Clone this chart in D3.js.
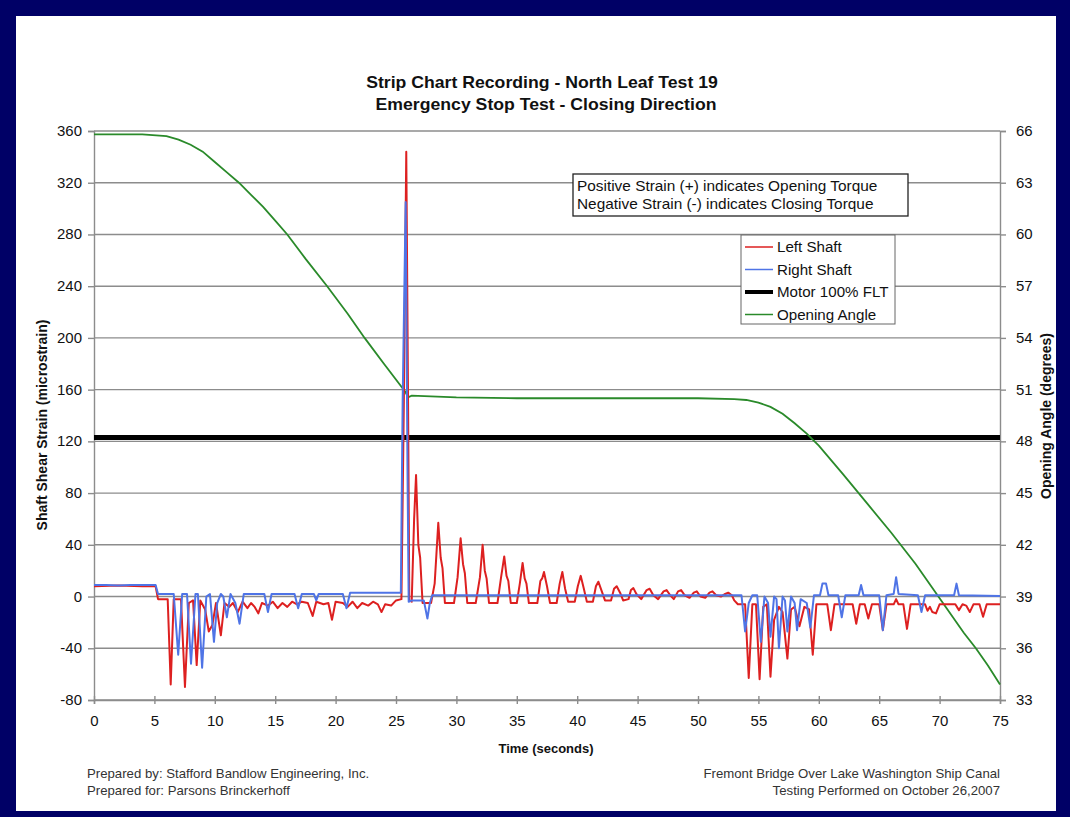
<!DOCTYPE html>
<html>
<head>
<meta charset="utf-8">
<script src="https://cdn.jsdelivr.net/npm/d3@7"></script>
<style>
  html, body { margin: 0; padding: 0; background: #000066; }
  svg { display: block; font-family: "Liberation Sans", Arial, sans-serif; }
</style>
</head>
<body>
<svg id="chart"></svg>
<script>
// time (s), microstrain
const leftShaft = [
  [0, 8], [2, 8.5], [4, 8], [5.1, 8], [5.3, -2], [6.1, -2], [6.35, -68], [6.6, -2], [7.2, -2],
  [7.53, -70], [7.85, -5], [8.2, -3], [8.5, -53], [8.8, -3], [9.2, -10], [9.5, -27], [9.8, -22],
  [10.1, -5], [10.5, -30], [10.8, -5], [11.2, -8], [11.5, -5], [11.9, -12], [12.3, -4], [12.7, -9],
  [13.0, -5], [13.3, -8], [13.6, -13], [13.9, -5], [14.4, -7], [14.8, -4], [15.2, -9], [15.6, -5],
  [16.0, -8], [16.4, -4], [16.8, -6], [17.2, -4], [17.7, -5], [18.1, -15], [18.4, -4], [19.0, -6],
  [19.4, -5], [19.7, -18], [20.0, -4], [20.6, -5], [21.0, -8], [21.4, -4], [21.8, -9], [22.2, -5],
  [22.7, -7], [23.1, -4], [23.5, -6], [23.8, -12], [24.1, -6], [24.6, -7], [25.0, -3], [25.45, -2],
  [25.65, 150], [25.85, 344], [26.0, 150], [26.1, -3], [26.3, -4], [26.5, 60], [26.66, 94],
  [26.85, 40], [27.0, 30], [27.2, -5], [27.9, -5], [28.2, 10], [28.5, 57], [28.7, 30], [28.85, 22],
  [29.05, -5], [29.8, -5], [30.1, 15], [30.35, 45], [30.55, 25], [30.7, 18], [30.9, -5], [31.6, -5],
  [31.95, 15], [32.17, 40], [32.35, 20], [32.5, 14], [32.7, -5], [33.4, -5], [33.7, 15], [33.96, 31],
  [34.15, 16], [34.3, 12], [34.5, -5], [35.0, -5], [35.25, 10], [35.48, 26], [35.65, 14], [35.8, 10],
  [36.0, -5], [36.7, -5], [36.95, 12], [37.1, 14], [37.25, 19], [37.5, 8], [37.75, -5], [38.3, -5],
  [38.55, 10], [38.77, 19], [39.0, 6], [39.25, -4], [39.8, -4], [40.05, 8], [40.29, 16], [40.55, 6],
  [40.8, -4], [41.3, -4], [41.55, 8], [41.75, 11.5], [42.0, 5], [42.3, -3], [42.8, -3], [43.05, 6],
  [43.27, 8], [43.55, 3], [43.8, -3], [44.25, -2], [44.45, 5], [44.65, 6.5], [44.9, 2], [45.3, -2],
  [45.75, 5], [46.0, 6], [46.3, 1], [46.7, -2], [47.15, 4], [47.4, 5], [47.7, 1], [48.0, -2],
  [48.35, 4], [48.6, 5], [48.9, 1], [49.3, -1], [49.65, 3], [49.9, 4], [50.2, 0], [50.6, -1],
  [50.95, 3], [51.2, 4], [51.5, 1], [51.9, 0], [52.25, 2], [52.5, 3], [52.8, 1], [53.0, -3],
  [53.3, -6], [53.9, -6], [54.2, -63], [54.5, -6], [54.8, -6], [55.1, -64], [55.4, -8], [55.7, -6],
  [56.0, -62], [56.3, -18], [56.7, -8], [57.0, -12], [57.4, -48], [57.7, -10], [58.0, -8], [58.4, -23],
  [58.8, -8], [59.2, -10], [59.5, -45], [59.8, -6], [60.7, -6], [61.0, -26], [61.3, -6], [62.8, -6],
  [63.1, -21], [63.4, -6], [63.8, -6], [64.1, -17], [64.4, -6], [65.0, -6], [65.3, -26], [65.6, -6],
  [66.2, -6], [66.4, -2], [66.6, -6], [67.0, -6], [67.3, -25], [67.6, -6], [68.8, -6], [69.0, -11],
  [69.2, -8], [69.4, -12], [69.7, -13], [70.0, -6], [71.3, -6], [71.6, -10.5], [71.9, -6], [72.2, -7],
  [72.5, -12], [72.8, -6], [73.3, -6], [73.6, -15.6], [73.9, -6], [75, -6]
];

const rightShaft = [
  [0, 9], [1, 9], [2, 8.5], [3, 9], [4, 9], [5.1, 9], [5.3, 2], [6.6, 2], [6.97, -45], [7.3, 2],
  [7.7, 2], [8.03, -52], [8.4, 2], [8.6, 2], [8.95, -55], [9.3, 0], [9.6, 2], [9.93, -35], [10.2, -5],
  [10.5, 2], [10.7, 0], [11.0, -16], [11.3, 2], [11.7, -5], [12.05, -21], [12.4, 2], [14.1, 2],
  [14.4, -12], [14.7, 2], [16.6, 2], [16.9, -9], [17.2, 2], [18.2, 2], [18.4, -3], [18.6, 2],
  [20.6, 2], [20.9, -9], [21.2, 3], [25.4, 3], [25.55, 150], [25.8, 305], [25.95, 100], [26.05, -4],
  [26.3, -3], [27.3, -3], [27.6, -17], [27.8, -5], [28.0, 1], [53.6, 1], [53.9, -27], [54.2, -5],
  [54.5, 1], [54.9, 1], [55.2, -35], [55.5, 0], [55.8, -5], [56.0, -31], [56.3, 0], [56.5, -2],
  [56.7, -40], [57.0, 0], [57.2, -3], [57.4, -27], [57.7, 0], [58.0, -5], [58.2, -26], [58.5, -2],
  [59.0, -5], [59.3, -24], [59.6, 1], [60.1, 1], [60.3, 10], [60.6, 10], [60.8, 1], [61.6, 1],
  [61.9, -16], [62.2, 1], [63.3, 1], [63.5, 9], [63.7, 1], [65.0, 1], [65.3, -26], [65.6, 1],
  [66.2, 2], [66.4, 15], [66.6, 2], [68.2, 1], [68.5, -12], [68.8, 1], [71.2, 1], [71.4, 10],
  [71.6, 1], [75, 0.5]
];

const motorFLT = [[0, 123], [75, 123]];

// time (s), degrees
const openingAngle = [
  [0, 65.8], [4, 65.8], [6, 65.7], [7, 65.5], [8, 65.2], [9, 64.8], [10, 64.2], [11, 63.6],
  [12, 63.0], [13, 62.3], [14, 61.6], [15, 60.8], [16, 60.0], [17.5, 58.6], [19.3, 57.0], [21, 55.4],
  [22.4, 54.0], [24, 52.5], [25.75, 50.9], [26.0, 50.55], [26.3, 50.65], [30, 50.55], [35, 50.5],
  [40, 50.5], [45, 50.5], [50, 50.5], [53, 50.45], [54, 50.4], [55, 50.25], [56, 50.0], [57, 49.6],
  [58, 49.05], [59, 48.45], [60, 47.75], [62, 46.1], [64, 44.4], [66, 42.7], [68, 40.9], [70, 38.9],
  [72, 36.9], [73, 36.0], [74, 35.0], [75, 33.9]
];

const xTicks = d3.range(0, 76, 5);
const yTicks = d3.range(-80, 361, 40);
const y2Ticks = d3.range(33, 67, 3);

const legendItems = [
  { name: "Left Shaft", color: "#dd2020", width: 1.5 },
  { name: "Right Shaft", color: "#4f74e6", width: 1.5 },
  { name: "Motor 100% FLT", color: "#000000", width: 4 },
  { name: "Opening Angle", color: "#2a8a2a", width: 1.5 }
];

const noteLines = [
  "Positive Strain (+) indicates Opening Torque",
  "Negative Strain (-) indicates Closing Torque"
];

const width = 1070;
const height = 817;
const margin = { top: 131, right: 70, bottom: 117, left: 94 };
const fontFamily = "'Liberation Sans', Arial, sans-serif";

const svg = d3.select("#chart")
  .attr("width", width)
  .attr("height", height);

// the source picture is a little wider than tall, so stretch text sideways
function stretch(sel, sx) {
  sel.each(function () {
    const t = d3.select(this);
    const tx = +t.attr("x") || 0;
    const ty = +t.attr("y") || 0;
    t.attr("x", 0).attr("y", 0)
      .attr("transform", `translate(${tx},${ty}) scale(${sx},1)`);
  });
}

function label(g, xPos, yPos, txt, size, anchor, weight) {
  return g.append("text")
    .attr("x", xPos).attr("y", yPos)
    .attr("text-anchor", anchor || "start")
    .style("font-size", size + "px")
    .style("font-weight", weight || "normal")
    .attr("fill", "#111")
    .text(txt);
}

svg.append("rect")
  .attr("width", width).attr("height", height)
  .attr("fill", "#000066");

svg.append("rect")
  .attr("x", 16).attr("y", 16)
  .attr("width", 1040).attr("height", 795)
  .attr("fill", "#ffffff");

const x = d3.scaleLinear().domain([0, 75]).range([margin.left, width - margin.right]);
const y = d3.scaleLinear().domain([-80, 360]).range([height - margin.bottom, margin.top]);
const y2 = d3.scaleLinear().domain([33, 66]).range([height - margin.bottom, margin.top]);

// gridlines
svg.append("g")
  .selectAll("line")
  .data(yTicks)
  .enter().append("line")
  .attr("x1", x(0)).attr("x2", x(75))
  .attr("y1", d => y(d)).attr("y2", d => y(d))
  .attr("stroke", "#8c8c8c")
  .attr("stroke-width", 1.4);

const fmt = d => String(d);

const yAxis = svg.append("g")
  .attr("transform", `translate(${x(0)},0)`)
  .call(d3.axisLeft(y).tickValues(yTicks).tickFormat(fmt).tickSize(6).tickPadding(6));

const y2Axis = svg.append("g")
  .attr("transform", `translate(${x(75)},0)`)
  .call(d3.axisRight(y2).tickValues(y2Ticks).tickFormat(fmt).tickSize(6).tickPadding(10));

const xAxis = svg.append("g")
  .attr("transform", `translate(0,${y(-80)})`)
  .call(d3.axisBottom(x).tickValues(xTicks).tickFormat(fmt).tickSize(4).tickPadding(12));
xAxis.selectAll(".tick line").attr("y1", -4);

[yAxis, y2Axis, xAxis].forEach(g => {
  g.select(".domain").attr("stroke", "#8c8c8c").attr("stroke-width", 1.4);
  g.selectAll(".tick line").attr("stroke", "#8c8c8c").attr("stroke-width", 1.4);
  g.selectAll(".tick text")
    .attr("fill", "#111")
    .style("font-size", "14px")
    .style("font-family", fontFamily);
  stretch(g.selectAll(".tick text"), 1.07);
});

// series
const strainLine = d3.line().x(d => x(d[0])).y(d => y(d[1]));
const angleLine = d3.line().x(d => x(d[0])).y(d => y2(d[1]));

svg.append("path")
  .datum(motorFLT)
  .attr("d", strainLine)
  .attr("fill", "none")
  .attr("stroke", "#000")
  .attr("stroke-width", 5);

svg.append("path")
  .datum(openingAngle)
  .attr("d", angleLine)
  .attr("fill", "none")
  .attr("stroke", "#2a8a2a")
  .attr("stroke-width", 1.8);

svg.append("path")
  .datum(leftShaft)
  .attr("d", strainLine)
  .attr("fill", "none")
  .attr("stroke", "#dd2020")
  .attr("stroke-width", 2)
  .attr("stroke-linejoin", "round");

svg.append("path")
  .datum(rightShaft)
  .attr("d", strainLine)
  .attr("fill", "none")
  .attr("stroke", "#4f74e6")
  .attr("stroke-width", 2)
  .attr("stroke-linejoin", "round");

// titles
stretch(label(svg, 542, 88, "Strip Chart Recording - North Leaf Test 19", 16.5, "middle", "bold"), 1.07);
stretch(label(svg, 546, 110, "Emergency Stop Test - Closing Direction", 16.5, "middle", "bold"), 1.07);
label(svg, 546, 753, "Time (seconds)", 13, "middle", "bold");

label(svg, 0, 0, "Shaft Shear Strain (microstrain)", 14, "middle", "bold")
  .attr("transform", "translate(47,425) rotate(-90)");
label(svg, 0, 0, "Opening Angle (degrees)", 14, "middle", "bold")
  .attr("transform", "translate(1051,416) rotate(-90)");

// note box
const note = svg.append("g").attr("transform", "translate(573,174)");
note.append("rect")
  .attr("width", 335).attr("height", 42)
  .attr("fill", "#fff").attr("stroke", "#222").attr("stroke-width", 1.3);
noteLines.forEach((d, i) => {
  stretch(label(note, 4, 17 + i * 18, d, 14), 1.1);
});

// legend
const legend = svg.append("g").attr("transform", "translate(741,235)");
legend.append("rect")
  .attr("width", 154).attr("height", 89)
  .attr("fill", "#fff").attr("stroke", "#666").attr("stroke-width", 1);
legendItems.forEach((d, i) => {
  const row = legend.append("g").attr("transform", `translate(0,${12 + i * 22.5})`);
  row.append("line")
    .attr("x1", 4).attr("x2", 32)
    .attr("stroke", d.color)
    .attr("stroke-width", d.width);
  stretch(label(row, 36, 5, d.name, 14), 1.08);
});

// footer
const footer = svg.append("g").attr("fill", "#333");
[["Prepared by: Stafford Bandlow Engineering, Inc.", 778], ["Prepared for: Parsons Brinckerhoff", 795]]
  .forEach(d => stretch(label(footer, 87, d[1], d[0], 12).attr("fill", "#333"), 1.1));
[["Fremont Bridge Over Lake Washington Ship Canal", 778], ["Testing Performed on October 26,2007", 795]]
  .forEach(d => stretch(label(footer, 1000, d[1], d[0], 12, "end").attr("fill", "#333"), 1.1));
</script>
</body>
</html>
